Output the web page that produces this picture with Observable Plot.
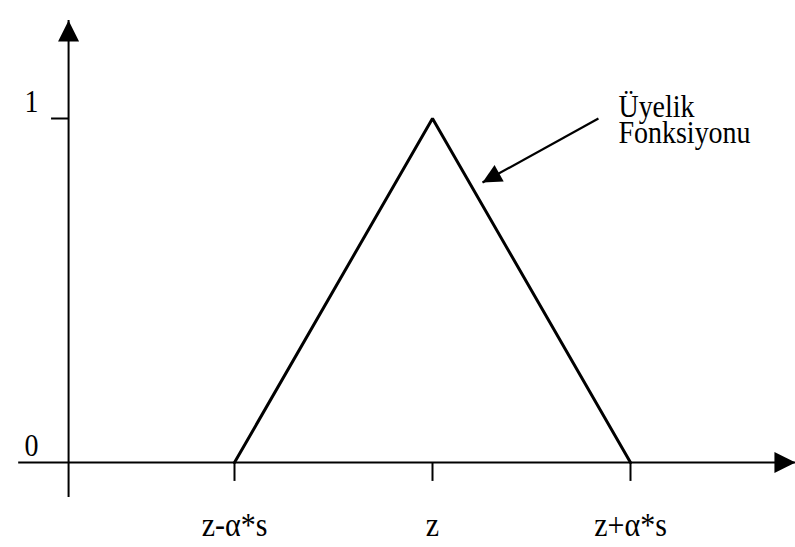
<!DOCTYPE html>
<html>
<head>
<meta charset="utf-8">
<script src="https://cdn.jsdelivr.net/npm/d3@7"></script>
<script src="https://cdn.jsdelivr.net/npm/@observablehq/plot@0.6"></script>
<style>
  body { margin: 0; background: #fff; }
</style>
</head>
<body>
<div id="chart"></div>
<script>
// Triangular membership function: 0 at z-α*s, 1 at z, 0 at z+α*s
const positions = [-1, 0, 1];
const positionLabels = ["z-α*s", "z", "z+α*s"];
const membership = [0, 1, 0];
const levelTicks = [0, 1];
const levelLabels = ["0", "1"];
const noteText = "Üyelik\nFonksiyonu";

// Axis extents (data units)
const xAxisFrom = -2.09, xAxisTo = 1.833;
const yAxisAt = -1.838, yAxisFrom = -0.102, yAxisTo = 1.285;
const xTickBelow = -0.055, yTickLength = 0.086;
// Callout arrow from the label toward the right slope
const noteFrom = {x: 0.838, y: 1.0};
const noteTo = {x: 0.2525, y: 0.814};
const noteAt = {x: 0.939, y: 0.93};

const W = 795, H = 547;
const margin = {top: 118, right: 165, bottom: 85, left: 234};
const xDomain = [-1, 1], yDomain = [0, 1];
const xRange = [margin.left, W - margin.right];
const yRange = [H - margin.bottom, margin.top];
const textStretch = 1.13; // tall, narrow serif lettering

const curve = positions.map((p, i) => ({x: p, y: membership[i]}));
const xTable = positions.map((p, i) => ({x: p, label: positionLabels[i]}));
const yTable = levelTicks.map((v, i) => ({y: v, label: levelLabels[i]}));

// Filled arrowhead; tip at the origin, pointing up
const head = {
  draw(context, size) {
    const r = Math.sqrt(size / Math.PI);
    context.moveTo(0, 0);
    context.lineTo(r, 2 * r);
    context.lineTo(-r, 2 * r);
    context.closePath();
  }
};

const X = Plot.scale({x: {domain: xDomain, range: xRange}});
const Y = Plot.scale({y: {domain: yDomain, range: yRange}});
const vx = X.apply(noteTo.x) - X.apply(noteFrom.x);
const vy = Y.apply(noteTo.y) - Y.apply(noteFrom.y);
const noteAngle = Math.atan2(vx, -vy) * 180 / Math.PI;

const font = {fontFamily: "Liberation Serif", fontSize: 28, fill: "#000"};

const chart = Plot.plot({
  width: W,
  height: H,
  marginTop: margin.top,
  marginRight: margin.right,
  marginBottom: margin.bottom,
  marginLeft: margin.left,
  x: {domain: xDomain, range: xRange, axis: null},
  y: {domain: yDomain, range: yRange, axis: null},
  style: {background: "#fff", overflow: "visible"},
  marks: [
    // axes
    Plot.ruleY([0], {x1: xAxisFrom, x2: xAxisTo, stroke: "#000", strokeWidth: 2}),
    Plot.ruleX([yAxisAt], {y1: yAxisFrom, y2: yAxisTo, stroke: "#000", strokeWidth: 2}),
    Plot.dot([{x: yAxisAt, y: yAxisTo}], {x: "x", y: "y", symbol: head, r: 10.5, fill: "#000", stroke: null}),
    Plot.dot([{x: xAxisTo, y: 0}], {x: "x", y: "y", symbol: head, r: 10.5, rotate: 90, fill: "#000", stroke: null}),
    // ticks
    Plot.ruleX(xTable, {x: "x", y1: 0, y2: xTickBelow, stroke: "#000", strokeWidth: 2}),
    Plot.ruleY(yTable.filter(d => d.y > 0), {y: "y", x1: yAxisAt - yTickLength, x2: yAxisAt, stroke: "#000", strokeWidth: 2}),
    // tick labels
    Plot.text(xTable, {x: "x", y: 0, text: "label", dy: 73, lineAnchor: "bottom", textAnchor: "middle", ...font, fontSize: 30}),
    Plot.text(yTable, {x: yAxisAt, y: "y", text: "label", dx: -37, dy: -7, lineAnchor: "bottom", textAnchor: "middle", ...font}),
    // membership function
    Plot.line(curve, {x: "x", y: "y", stroke: "#000", strokeWidth: 3, strokeLinejoin: "miter"}),
    // callout
    Plot.link([noteFrom], {x1: "x", y1: "y", x2: noteTo.x, y2: noteTo.y, stroke: "#000", strokeWidth: 2.2}),
    Plot.dot([noteTo], {x: "x", y: "y", symbol: head, r: 9.5, rotate: noteAngle, fill: "#000", stroke: null}),
    Plot.text([noteAt], {x: "x", y: "y", text: [noteText], textAnchor: "start", lineAnchor: "bottom", lineHeight: 0.93 / textStretch, ...font})
  ]
});

// Stretch lettering vertically about each label's anchor point
chart.querySelectorAll("text").forEach((el) => {
  const t = el.getAttribute("transform");
  if (t && /translate/.test(t)) {
    el.setAttribute("transform", `${t} scale(1,${textStretch})`);
  } else {
    const x = +el.getAttribute("x") || 0, y = +el.getAttribute("y") || 0;
    el.setAttribute("transform", `translate(${x},${y}) scale(1,${textStretch}) translate(${-x},${-y})`);
  }
});

document.getElementById("chart").appendChild(chart);
</script>
</body>
</html>
